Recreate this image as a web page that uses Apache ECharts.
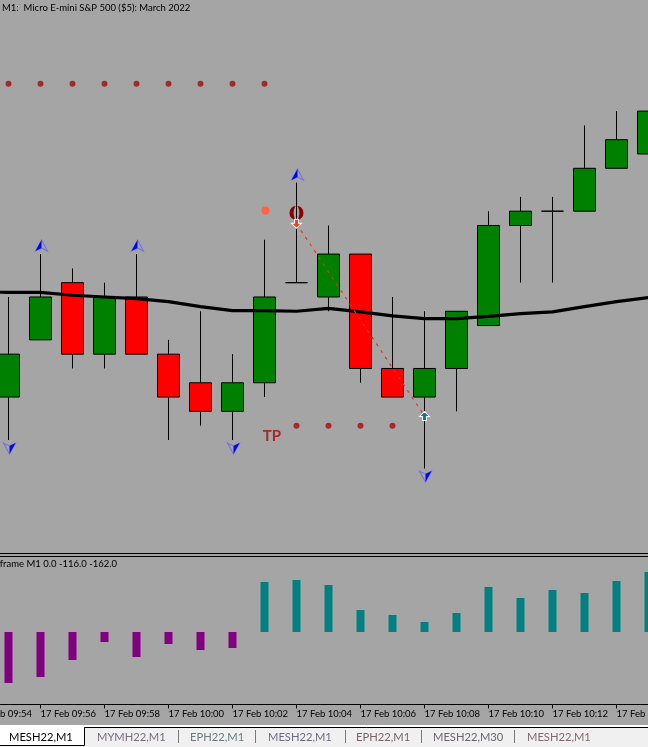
<!DOCTYPE html>
<html><head><meta charset="utf-8">
<style>html,body{margin:0;padding:0;background:#A5A5A5}#c{width:648px;height:747px}</style>
<script src="https://cdn.jsdelivr.net/npm/echarts@6/dist/echarts.min.js"></script>
</head><body><div id="c"></div>
<script>
const times = ['17 Feb 09:54','17 Feb 09:55','17 Feb 09:56','17 Feb 09:57','17 Feb 09:58','17 Feb 09:59','17 Feb 10:00','17 Feb 10:01','17 Feb 10:02','17 Feb 10:03','17 Feb 10:04','17 Feb 10:05','17 Feb 10:06','17 Feb 10:07','17 Feb 10:08','17 Feb 10:09','17 Feb 10:10','17 Feb 10:11','17 Feb 10:12','17 Feb 10:13','17 Feb 10:14','17 Feb 10:15'];
const opens  = [null,4398.25,4399.25,4400.25,4399,4400,4399,4398.5,4398,4398.5,4400.25,4400,4400.75,4398.75,4398.25,4398.75,4399.5,4401.25,4401.5,4401.5,4402.25,4402.5];
const closes = [null,4399,4400,4399,4400,4399,4398.25,4398,4398.5,4400,4400.25,4400.75,4398.75,4398.25,4398.75,4399.75,4401.25,4401.5,4401.5,4402.25,4402.75,4403.25];
const lows   = [null,4397.5,4399.25,4398.75,4398.75,4399,4397.5,4397.75,4397.5,4398.25,4400.25,4399.75,4398.5,4398.25,4397,4398,4399.5,4400.25,4400.25,4401.5,4402.25,4402.5];
const highs  = [null,4400,4400.75,4400.5,4400.25,4400.75,4399.25,4399.75,4399,4401,4402,4401.25,4400.75,4400,4399.75,4399.75,4401.5,4401.75,4401.75,4403,4403.25,4403.25];
const maLine = [4400.09,4400.08,4400.08,4400.03,4400,4399.97,4399.92,4399.83,4399.76,4399.76,4399.75,4399.8,4399.74,4399.67,4399.62,4399.62,4399.66,4399.71,4399.74,4399.83,4399.92,4399.99];
const histDown = [null,-153,-135,-84,-30,-75,-36,-54,-48,null,null,null,null,null,null,null,null,null,null,null,null,null];
const histUp   = [null,null,null,null,null,null,null,null,null,150,156,141,66,51,30,57,135,102,126,117,153,180];
const upperDotTimes = ['17 Feb 09:55','17 Feb 09:56','17 Feb 09:57','17 Feb 09:58','17 Feb 09:59','17 Feb 10:00','17 Feb 10:01','17 Feb 10:02','17 Feb 10:03'];
const upperDotPrice = 4403.73;
const lowerDotTimes = ['17 Feb 10:04','17 Feb 10:05','17 Feb 10:06','17 Feb 10:07'];
const lowerDotPrice = 4397.75;
const upArrows = [['17 Feb 09:56',4400.9],['17 Feb 09:59',4400.9],['17 Feb 10:04',4402.14]];
const downArrows = [['17 Feb 09:55',4397.35],['17 Feb 10:02',4397.35],['17 Feb 10:08',4396.86]];
const tradeLine = [['17 Feb 10:04',4401.28],['17 Feb 10:08',4397.92]];
const sellMark = [['17 Feb 10:04',4401.28]];
const buyMark = [['17 Feb 10:08',4397.92]];
const hollowMark = [['17 Feb 10:04',4401.47]];
const orangeDot = [['17 Feb 10:03',4401.51]];
const tpMark = [['17 Feb 10:03',4397.56]];
const titleText = 'M1:  Micro E-mini S&P 500 ($5): March 2022';
const subTitleText = 'Timeframe M1 0.0 -116.0 -162.0';
const tabNames = ['MESH22,M1','MYMH22,M1','EPH22,M1','MESH22,M1','EPH22,M1','MESH22,M30','MESH22,M1'];
const tabColors = ['#000','#7a6c80','#6a7c80','#6c6c80','#7a6468','#6c6470','#86686c'];
const tabX = [9,97,190,268,356,433,527];
const tabSeps = [178.5,255.5,345.5,421.5,514.5];

const GREEN='#008000', RED='#FF0000', BG='#A5A5A5', DOT='#A52A2A';
const FONT='Lato';
const arrowUpLeft='path://M6 0L6 8L0 11Z';
const arrowUpAll='path://M6 0L12 11L6 8L0 11Z';
const arrowDownRight='path://M6 11L6 3L12 0Z';
const arrowDownAll='path://M6 11L12 0L6 3L0 0Z';
const markDown='path://M3 0H7V4H10L5 9L0 4H3Z';
const markUp='path://M5 0L10 5H7V9H3V5H0Z';
const hollow='path://M6 0A7 7 0 0 0 6 14C3 10 3 4 6 0ZM8 0A7 7 0 0 1 8 14C11 10 11 4 8 0Z';

const scatter=(name,data,o)=>{const s=Object.assign({type:'scatter',name,data,xAxisIndex:0,yAxisIndex:0,silent:true,z:6},o);s.itemStyle=Object.assign({opacity:1},o.itemStyle);return s;};

const graphic=[
  {type:'rect',shape:{x:0,y:725,width:648,height:22},style:{fill:'#F0F0F0'},z:100},
  {type:'rect',shape:{x:0,y:725,width:648,height:2},style:{fill:'#FFFFFF'},z:101},
  {type:'rect',shape:{x:0,y:725,width:84,height:20},style:{fill:'#FFFFFF'},z:101},
  {type:'polyline',shape:{points:[[648,727.5],[84.5,727.5],[84.5,745.5],[0,745.5]]},style:{stroke:'#000',lineWidth:1,fill:null},z:102},
  {type:'text',x:117,y:564,style:{text:subTitleText,align:'right',verticalAlign:'middle',font:'9.5px '+FONT,fill:'#000'},z:50}
];
tabNames.forEach((n,i)=>graphic.push({type:'text',x:tabX[i],y:737,style:{text:n,verticalAlign:'middle',font:'11.2px Lato',fill:tabColors[i]},z:103}));
tabSeps.forEach(x=>graphic.push({type:'line',shape:{x1:x,y1:730,x2:x,y2:743},style:{stroke:'#7a7a7a',lineWidth:1},z:103}));

const chart=echarts.init(document.getElementById('c'),null,{renderer:'canvas'});
chart.setOption({
  animation:false,
  backgroundColor:BG,
  title:{text:titleText,left:2,top:3,padding:0,textStyle:{fontFamily:FONT,fontSize:9.5,fontWeight:'normal',color:'#000'}},
  grid:[
    {left:-39.5,width:704,top:-10,height:563.5,outerBoundsMode:'none',show:true,borderColor:'#000',borderWidth:1,backgroundColor:'transparent'},
    {left:-39.5,width:704,top:556.5,height:148,outerBoundsMode:'none',show:true,borderColor:'#000',borderWidth:1,backgroundColor:'transparent'}
  ],
  xAxis:[
    {type:'category',gridIndex:0,data:times,axisLine:{show:false},axisTick:{show:false},axisLabel:{show:false},splitLine:{show:false}},
    {type:'category',gridIndex:1,data:times,axisLine:{show:true,onZero:false,lineStyle:{color:'#000'}},
     axisTick:{show:true,alignWithLabel:true,interval:1,length:4,lineStyle:{color:'#000'}},
     axisLabel:{show:true,interval:1,align:'left',margin:4,fontFamily:FONT,fontSize:9.5,color:'#000',showMinLabel:true,hideOverlap:false},splitLine:{show:false}}
  ],
  yAxis:[
    {type:'value',gridIndex:0,min:4395.515,max:4405.367,show:false,splitLine:{show:false}},
    {type:'value',gridIndex:1,min:-217.5,max:226.5,show:false,splitLine:{show:false}}
  ],
  series:[
    scatter('hollow',hollowMark,{symbol:hollow,symbolSize:[14,14],itemStyle:{color:'#8B0000'},z:1}),
    {type:'candlestick',name:'price',xAxisIndex:0,yAxisIndex:0,barWidth:22,z:2,silent:true,
     itemStyle:{color:GREEN,color0:RED,borderColor:'#000',borderColor0:'#000',borderColorDoji:'#000',borderWidth:1},
     data:times.map((t,i)=>opens[i]===null?'-':[opens[i],closes[i],lows[i],highs[i]])},
    {type:'line',name:'ma',xAxisIndex:0,yAxisIndex:0,data:maLine,showSymbol:false,z:3,silent:true,lineStyle:{color:'#000',width:3.2}},
    {type:'line',name:'trade',xAxisIndex:0,yAxisIndex:0,data:tradeLine,showSymbol:false,z:4,silent:true,lineStyle:{color:'#F03010',width:1.2,type:[3,5]}},
    scatter('upperDots',upperDotTimes.map(t=>[t,upperDotPrice]),{symbol:'circle',symbolSize:6,itemStyle:{color:DOT}}),
    scatter('lowerDots',lowerDotTimes.map(t=>[t,lowerDotPrice]),{symbol:'circle',symbolSize:6,itemStyle:{color:DOT}}),
    scatter('orange',orangeDot,{symbol:'circle',symbolSize:8,symbolOffset:[1,0],itemStyle:{color:'#FF6347'}}),
    scatter('upOutline',upArrows,{symbol:arrowUpAll,symbolSize:[12,11],symbolOffset:[1,0],itemStyle:{color:'rgba(0,0,0,0)',borderColor:'#7272D8',borderWidth:1}}),
    scatter('upFill',upArrows,{symbol:arrowUpLeft,symbolSize:[6,11],symbolOffset:[-2,0],itemStyle:{color:'#0000FF'}}),
    scatter('downOutline',downArrows,{symbol:arrowDownAll,symbolSize:[12,11],symbolOffset:[1,0],itemStyle:{color:'rgba(0,0,0,0)',borderColor:'#7272D8',borderWidth:1}}),
    scatter('downFill',downArrows,{symbol:arrowDownRight,symbolSize:[6,11],symbolOffset:[4,0],itemStyle:{color:'#0000FF'}}),
    scatter('sell',sellMark,{symbol:markDown,symbolSize:[10,9],itemStyle:{color:'#F04020',borderColor:'#FFF',borderWidth:1},z:7}),
    scatter('buy',buyMark,{symbol:markUp,symbolSize:[10,9],itemStyle:{color:'#0070C0',borderColor:'#FFF',borderWidth:1},z:7}),
    scatter('tp',tpMark,{symbol:'circle',symbolSize:0,label:{show:true,formatter:'TP',position:'inside',offset:[7.5,0],fontFamily:'Lato',fontWeight:'bold',fontSize:15,color:DOT}}),
    {type:'bar',name:'down',xAxisIndex:1,yAxisIndex:1,data:histDown,barWidth:8,barGap:'-100%',silent:true,itemStyle:{color:'#800080'}},
    {type:'bar',name:'up',xAxisIndex:1,yAxisIndex:1,data:histUp,barWidth:8,barGap:'-100%',silent:true,itemStyle:{color:'#008080'}}
  ],
  graphic:graphic
});
</script></body></html>
